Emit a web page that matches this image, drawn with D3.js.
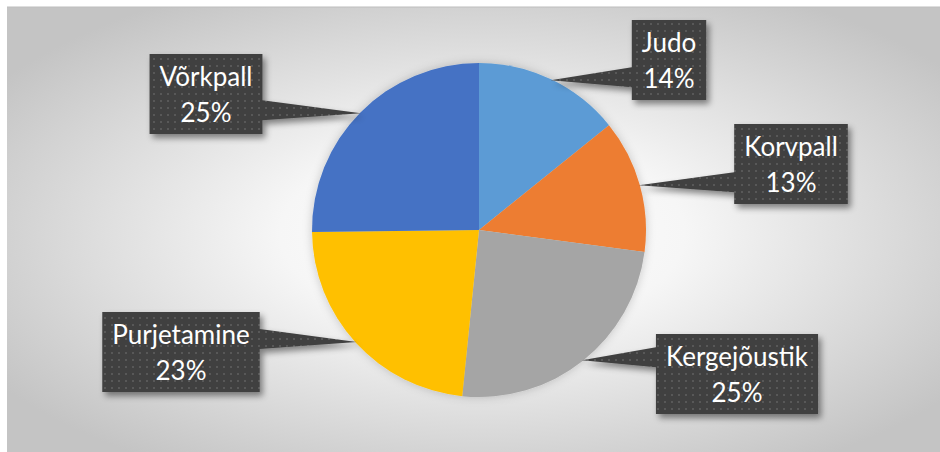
<!DOCTYPE html>
<html>
<head>
<meta charset="utf-8">
<script src="https://cdn.jsdelivr.net/npm/d3@7"></script>
<style>
  html, body { margin: 0; padding: 0; background: #fff; }
  svg { display: block; }
</style>
</head>
<body>
<div id="chart"></div>
<script>
const categories = ['Judo', 'Korvpall', 'Kergejõustik', 'Purjetamine', 'Võrkpall']
const values = [14.2, 12.9, 24.5, 23.2, 25.2]
const colors = ['#5b9bd5', '#ed7d31', '#a5a5a5', '#ffc000', '#4472c4']
// where each callout box sits, relative to the pie centre
const labelOffsets = [[190, -170], [312, -66], [258, 144], [-298, 122], [-273, -136]]

const width = 940
const height = 452
const cx = 479
const cy = 230
const radius = 167

const svg = d3.select('#chart').append('svg')
  .attr('width', width)
  .attr('height', height)

const defs = svg.append('defs')

const bg = defs.append('radialGradient')
  .attr('id', 'bg')
  .attr('cx', cx / width).attr('cy', cy / height)
  .attr('r', 0.62)
bg.append('stop').attr('offset', '0%').attr('stop-color', '#ffffff')
bg.append('stop').attr('offset', '35%').attr('stop-color', '#f6f6f6')
bg.append('stop').attr('offset', '100%').attr('stop-color', '#c4c4c4')

const pat = defs.append('pattern')
  .attr('id', 'dots')
  .attr('width', 7).attr('height', 7)
  .attr('patternUnits', 'userSpaceOnUse')
pat.append('rect').attr('width', 7).attr('height', 7).attr('fill', '#404040')
pat.append('rect').attr('x', 3).attr('y', 3).attr('width', 2).attr('height', 2).attr('fill', '#585858')

const shadow = defs.append('filter').attr('id', 'shadow')
  .attr('x', '-20%').attr('y', '-20%').attr('width', '150%').attr('height', '150%')
shadow.append('feDropShadow')
  .attr('dx', 3).attr('dy', 4).attr('stdDeviation', 3)
  .attr('flood-color', '#000').attr('flood-opacity', 0.45)

const pieShadow = defs.append('filter').attr('id', 'pieShadow')
  .attr('x', '-20%').attr('y', '-20%').attr('width', '140%').attr('height', '140%')
pieShadow.append('feDropShadow')
  .attr('dx', 0).attr('dy', 0).attr('stdDeviation', 5)
  .attr('flood-color', '#000').attr('flood-opacity', 0.2)

svg.append('rect')
  .attr('x', 7).attr('y', 7)
  .attr('width', width - 7).attr('height', height - 7)
  .attr('fill', 'url(#bg)')
svg.append('line')
  .attr('x1', 7).attr('x2', width)
  .attr('y1', 7).attr('y2', 7)
  .attr('stroke', '#bdbdbd').attr('stroke-width', 1)

const pie = d3.pie().sort(null).value(d => d)
const arcs = pie(values)
const total = d3.sum(values)
const fmt = d3.format('.0%')

const arc = d3.arc().innerRadius(0).outerRadius(radius)

const g = svg.append('g').attr('transform', `translate(${cx},${cy})`)

g.append('g')
  .attr('filter', 'url(#pieShadow)')
  .selectAll('path')
  .data(arcs).enter()
  .append('path')
  .attr('d', arc)
  .attr('fill', (d, i) => colors[i])

const font = 'Lato, "Open Sans", sans-serif'
const fontSize = 26
const boxH = 80
const pad = 10

const labels = g.append('g')

arcs.forEach((d, i) => {
  const mid = (d.startAngle + d.endAngle) / 2
  const tip = [Math.sin(mid) * (radius - 1), -Math.cos(mid) * (radius - 1)]
  const [ox, oy] = labelOffsets[i]
  const lines = [categories[i], fmt(d.value / total)]

  const lg = labels.append('g')
  const txt = lg.append('text')
    .attr('font-family', font)
    .attr('font-size', fontSize)
    .attr('fill', '#fff')
    .attr('text-anchor', 'middle')
  lines.forEach((t, k) => {
    txt.append('tspan')
      .attr('x', ox)
      .attr('y', oy - 8 + k * 36)
      .text(t)
  })
  const tw = txt.node().getComputedTextLength ? d3.max(txt.selectAll('tspan').nodes(), n => n.getComputedTextLength()) : 60
  const boxW = tw + pad * 2
  const x0 = ox - boxW / 2
  const x1 = ox + boxW / 2
  const y0 = oy - boxH / 2
  const y1 = oy + boxH / 2

  // side of the box facing the pie
  const side = tip[0] < x0 ? x0 : x1
  const by = Math.max(y0 + 14, Math.min(y1 - 14, tip[1] - 3))
  const shape = d3.path()
  shape.moveTo(x0, y0)
  shape.lineTo(x1, y0)
  if (side === x1) {
    shape.lineTo(x1, by - 10)
    shape.lineTo(tip[0], tip[1])
    shape.lineTo(x1, by + 10)
  }
  shape.lineTo(x1, y1)
  shape.lineTo(x0, y1)
  if (side === x0) {
    shape.lineTo(x0, by + 10)
    shape.lineTo(tip[0], tip[1])
    shape.lineTo(x0, by - 10)
  }
  shape.closePath()

  lg.insert('path', 'text')
    .attr('d', shape.toString())
    .attr('fill', 'url(#dots)')
    .attr('filter', 'url(#shadow)')
})
</script>
</body>
</html>
